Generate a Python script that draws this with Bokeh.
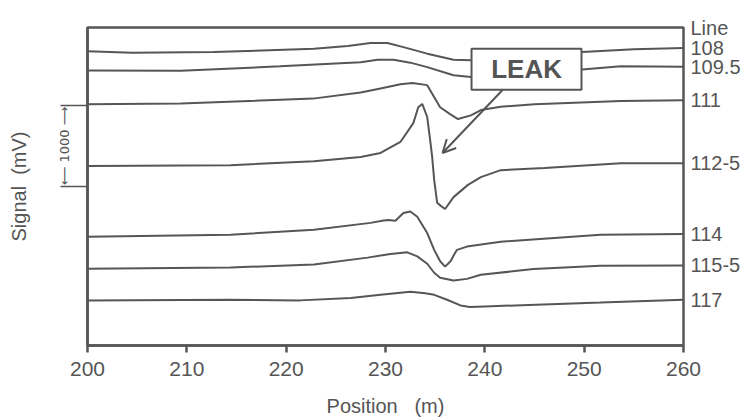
from bokeh.plotting import figure
from bokeh.models import (Range1d, FixedTicker, Label, BoxAnnotation, Arrow, OpenHead, LinearAxis)
from bokeh.embed import file_html
from bokeh.resources import INLINE

# ---------------- data (position in m, displayed signal in mV, traces offset) -------------
line_names = ["108", "109.5", "111", "112-5", "114", "115-5", "117"]

x_108 = [200, 204.5, 212.7, 222.8, 226.2, 228.5, 230.2, 231.8, 234.2, 236.85, 238.6, 244.0, 249.8, 255.0, 260]
y_108 = [3600, 3580, 3590, 3630, 3665, 3700, 3700, 3650, 3570, 3495, 3490, 3540, 3590, 3625, 3640]

x_1095 = [200, 209.4, 219.4, 227.5, 229.2, 230.8, 232.5, 234.2, 236.85, 238.6, 244.0, 249.8, 253.7, 260]
y_1095 = [3365, 3360, 3415, 3465, 3495, 3495, 3460, 3405, 3305, 3285, 3330, 3375, 3415, 3410]

x_111 = [200, 209.4, 222.7, 227.5, 229.5, 231.5, 232.7, 234.2, 235.5, 236.5, 237.3, 238.6, 239.6, 241.6, 245.0, 253.7, 260]
y_111 = [2950, 2960, 3020, 3095, 3145, 3195, 3210, 3185, 2915, 2830, 2770, 2815, 2880, 2920, 2950, 2990, 3000]

x_1125 = [200, 214.4, 222.8, 227.5, 229.5, 231.5, 232.8, 233.3, 233.7, 234.2, 234.5, 234.7, 234.9, 235.2,
          235.6, 236.0, 236.85, 238.3, 239.6, 241.6, 246.0, 253.7, 260]
y_1125 = [2195, 2205, 2255, 2305, 2355, 2490, 2720, 2915, 2955, 2795, 2510, 2305, 2025, 1745,
          1705, 1670, 1815, 1965, 2060, 2145, 2170, 2230, 2230]

x_114 = [200, 214.4, 222.8, 228.5, 229.8, 230.3, 231.0, 231.8, 232.5, 233.2, 234.2, 234.9, 235.5, 236.0,
         236.55, 236.9, 237.2, 238.2, 241.6, 251.65, 260]
y_114 = [1330, 1355, 1415, 1500, 1530, 1535, 1525, 1620, 1640, 1575, 1375, 1170, 1030, 965,
         1030, 1110, 1170, 1210, 1270, 1355, 1365]

x_1155 = [200, 214.4, 222.8, 228.2, 230.5, 232.2, 233.2, 234.2, 234.9, 235.5, 236.85, 238.2, 239.6, 244.9, 251.65, 260]
y_1155 = [940, 955, 990, 1075, 1120, 1140, 1090, 1000, 890, 830, 795, 815, 865, 935, 976, 980]

x_117 = [200, 214.4, 221.4, 226.5, 229.5, 232.5, 234.0, 234.9, 236.2, 237.55, 238.5, 240.0, 251.65, 260]
y_117 = [550, 560, 552, 580, 620, 658, 640, 620, 560, 490, 470, 478, 525, 560]

x_ticks = [200, 210, 220, 230, 240, 250, 260]
scale_bar_mv = [1940, 2940]          # 1000 mV scale bar ends
scale_bar_text = "\u27f5 1000 \u27f6"
leak_text = "LEAK"
header_text = "Line"

series = [(x_108, y_108), (x_1095, y_1095), (x_111, y_111), (x_1125, y_1125),
          (x_114, y_114), (x_1155, y_1155), (x_117, y_117)]

# ---------------- styling -------------
GREY = "#565656"
TXT = "#555555"
FONT = "Liberation Sans"
Y_TOP = 3890

p = figure(width=744, height=419, x_range=Range1d(200, 260), y_range=Range1d(0, Y_TOP),
           output_backend="svg", toolbar_location=None,
           min_border_left=87, min_border_right=61, min_border_top=27, min_border_bottom=73)
p.grid.visible = False
p.background_fill_color = "white"
p.border_fill_color = "white"
p.outline_line_color = GREY
p.outline_line_width = 2.5

for xs, ys in series:
    p.line(xs, ys, line_color=GREY, line_width=2)

# x axis
xa = p.xaxis[0]
xa.ticker = FixedTicker(ticks=x_ticks)
xa.axis_line_color = GREY
xa.axis_line_width = 2.5
xa.major_tick_line_color = GREY
xa.major_tick_line_width = 2.5
xa.major_tick_out = 7
xa.major_tick_in = 0
xa.minor_tick_line_color = None
xa.major_label_text_font = FONT
xa.major_label_text_font_size = "21px"
xa.major_label_text_color = TXT
xa.major_label_standoff = 9
xa.axis_label = "Position\u00a0\u00a0\u00a0(m)"
xa.axis_label_text_font = FONT
xa.axis_label_text_font_size = "20px"
xa.axis_label_text_font_style = "normal"
xa.axis_label_text_color = TXT
xa.axis_label_standoff = 16

# y axis: 1000 mV scale bar (minor ticks = bar ends, major label = value)
mid = (scale_bar_mv[0] + scale_bar_mv[1]) / 2
ya = p.yaxis[0]
ya.ticker = FixedTicker(ticks=[mid], minor_ticks=scale_bar_mv)
ya.axis_line_color = GREY
ya.axis_line_width = 2.5
ya.major_tick_line_color = None
ya.major_tick_out = 0
ya.major_tick_in = 0
ya.minor_tick_line_color = GREY
ya.minor_tick_line_width = 1.5
ya.minor_tick_out = 27
ya.minor_tick_in = 0
ya.major_label_overrides = {mid: scale_bar_text}
ya.major_label_orientation = "vertical"
ya.major_label_text_font = "DejaVu Sans"
ya.major_label_text_font_size = "13px"
ya.major_label_text_color = TXT
ya.major_label_standoff = -12
ya.axis_label = "Signal\u00a0\u00a0(mV)"
ya.axis_label_text_font = FONT
ya.axis_label_text_font_size = "20px"
ya.axis_label_text_font_style = "normal"
ya.axis_label_text_color = TXT
ya.axis_label_standoff = 25

# right-hand line labels (and header) as a label-only axis
label_y = [s[1][-1] for s in series]
ra = LinearAxis(ticker=FixedTicker(ticks=label_y + [Y_TOP - 1]))
ra.major_label_overrides = {**{v: n for v, n in zip(label_y, line_names)}, Y_TOP - 1: header_text}
ra.axis_line_color = None
ra.major_tick_line_color = None
ra.minor_tick_line_color = None
ra.major_tick_out = 0
ra.major_tick_in = 0
ra.major_label_standoff = 7
ra.major_label_text_font = FONT
ra.major_label_text_font_size = "20px"
ra.major_label_text_color = TXT
p.add_layout(ra, "right")

# LEAK callout
p.add_layout(BoxAnnotation(left=238.66, right=249.73, bottom=3130, top=3630,
                           fill_color="white", fill_alpha=1.0,
                           line_color=GREY, line_width=2, line_alpha=1.0))
p.add_layout(Arrow(end=OpenHead(size=13, line_width=2, line_color=GREY),
                   x_start=241.78, y_start=3125, x_end=235.74, y_end=2355,
                   line_color=GREY, line_width=2))
p.add_layout(Label(x=244.2, y=3385, text=leak_text, text_align="center", text_baseline="middle",
                   text_font=FONT, text_font_size="26px", text_font_style="bold", text_color=TXT))

open("out.html", "w").write(file_html(p, INLINE))
